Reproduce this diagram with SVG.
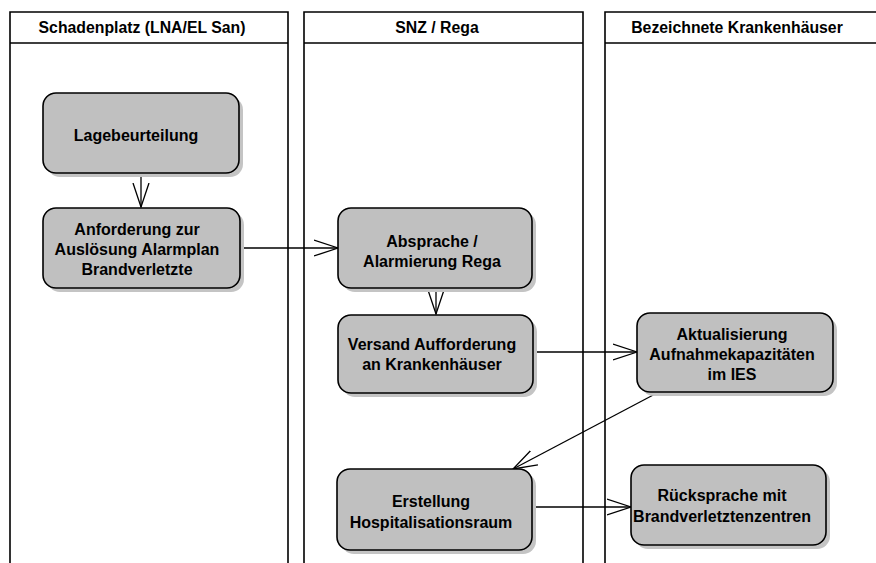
<svg xmlns="http://www.w3.org/2000/svg" width="876" height="563" viewBox="0 0 876 563">
<style>
.lane{fill:none;stroke:#000;stroke-width:1.6}
.hdr{font-family:"Liberation Sans",Arial,sans-serif;font-weight:bold;font-size:15.8px;text-anchor:middle;fill:#000}
.box{fill:#c0c0c0;stroke:#000;stroke-width:1.6}
.shd{fill:#c4c4c4}
.lbl{font-family:"Liberation Sans",Arial,sans-serif;font-weight:bold;font-size:16px;text-anchor:middle;fill:#000}
.edge{fill:none;stroke:#000;stroke-width:1.3}
</style>
<defs>
<marker id="arr" markerWidth="26" markerHeight="18" refX="24" refY="9" orient="auto" markerUnits="userSpaceOnUse">
<path d="M0,1 L24,9 L0,17" fill="none" stroke="#000" stroke-width="1.3"/>
</marker>
</defs>
<rect width="876" height="563" fill="#fff"/>
<g id="lanes">
<g id="lane1">
<path class="lane" d="M10,563 V12 H288 V563 M10,43 H288"/>
<text class="hdr" x="142" y="33">Schadenplatz (LNA/EL San)</text>
</g>
<g id="lane2">
<path class="lane" d="M304,563 V12 H583 V563 M304,43 H583"/>
<text class="hdr" x="437" y="33">SNZ / Rega</text>
</g>
<g id="lane3">
<path class="lane" d="M605,563 V12 H878 M605,43 H878"/>
<text class="hdr" x="737" y="33">Bezeichnete Krankenhäuser</text>
</g>
</g>
<g id="connectors">
<path class="edge" d="M141,173 V207" marker-end="url(#arr)"/>
<path class="edge" d="M241,248 H338" marker-end="url(#arr)"/>
<path class="edge" d="M436,288 V314" marker-end="url(#arr)"/>
<path class="edge" d="M533,352 H637" marker-end="url(#arr)"/>
<path class="edge" d="M657,393 L513,469" marker-end="url(#arr)"/>
<path class="edge" d="M532,507 H631" marker-end="url(#arr)"/>
</g>
<g id="n1">
<rect class="shd" x="47" y="97" width="196" height="80" rx="13"/>
<rect class="box" x="43" y="93" width="196" height="80" rx="13"/>
<text class="lbl" x="136" y="141">Lagebeurteilung</text>
</g>
<g id="n2">
<rect class="shd" x="47" y="212" width="197" height="80" rx="13"/>
<rect class="box" x="43" y="208" width="197" height="80" rx="13"/>
<text class="lbl" x="137" y="235">Anforderung zur</text>
<text class="lbl" x="137" y="255">Auslösung Alarmplan</text>
<text class="lbl" x="137" y="275">Brandverletzte</text>
</g>
<g id="n3">
<rect class="shd" x="342" y="212" width="194" height="80" rx="13"/>
<rect class="box" x="338" y="208" width="194" height="80" rx="13"/>
<text class="lbl" x="432" y="247">Absprache /</text>
<text class="lbl" x="432" y="267">Alarmierung Rega</text>
</g>
<g id="n4">
<rect class="shd" x="342" y="319" width="195" height="78" rx="13"/>
<rect class="box" x="338" y="315" width="195" height="78" rx="13"/>
<text class="lbl" x="432" y="350">Versand Aufforderung</text>
<text class="lbl" x="432" y="370">an Krankenhäuser</text>
</g>
<g id="n5">
<rect class="shd" x="641" y="317" width="196" height="79" rx="13"/>
<rect class="box" x="637" y="313" width="196" height="79" rx="13"/>
<text class="lbl" x="732" y="340">Aktualisierung</text>
<text class="lbl" x="732" y="360">Aufnahmekapazitäten</text>
<text class="lbl" x="732" y="380">im IES</text>
</g>
<g id="n6">
<rect class="shd" x="341" y="473" width="195" height="81" rx="13"/>
<rect class="box" x="337" y="469" width="195" height="81" rx="13"/>
<text class="lbl" x="431" y="507">Erstellung</text>
<text class="lbl" x="431" y="528">Hospitalisationsraum</text>
</g>
<g id="n7">
<rect class="shd" x="635" y="469" width="195" height="80" rx="13"/>
<rect class="box" x="631" y="465" width="195" height="80" rx="13"/>
<text class="lbl" x="722" y="501">Rücksprache mit</text>
<text class="lbl" x="722" y="522">Brandverletztenzentren</text>
</g>
</svg>
